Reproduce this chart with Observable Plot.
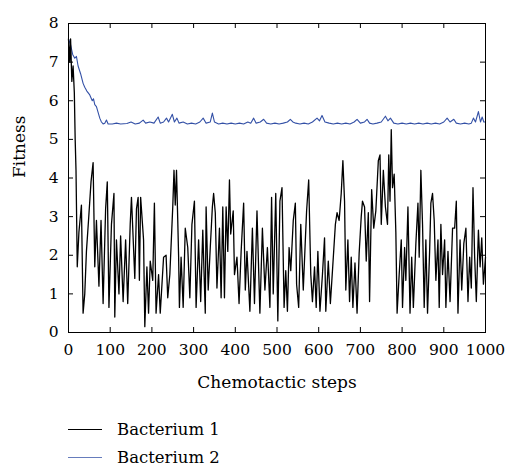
<!DOCTYPE html>
<html>
<head>
<meta charset="utf-8">
<script src="https://cdn.jsdelivr.net/npm/d3@7"></script>
<script src="https://cdn.jsdelivr.net/npm/@observablehq/plot@0.6"></script>
<style>
  html, body { margin: 0; padding: 0; background: #fff; overflow: hidden; }
  #wrap { position: relative; width: 505px; height: 466px; font-family: "DejaVu Serif", serif; }
  .legend { position: absolute; left: 68px; top: 415px; font-size: 16.5px; color: #000; }
  .row { display: flex; align-items: center; height: 28px; }
  .sw { width: 34px; height: 0; margin-right: 15px; }
  svg text { font-family: "DejaVu Serif", serif; }
</style>
</head>
<body>
<div id="wrap"></div>
<script>
// Bacterium 1 (black)
const steps1 = [0,3,5,8,11,14,16,18,21,25,31,35,39,43,48,54,59,63,67,73,78,83,89,93,97,103,109,111,115,121,125,131,137,142,148,151,159,163,167,170,173,180,183,188,192,196,202,206,210,216,220,228,234,238,243,250,253,256,259,262,264,266,270,275,280,286,291,296,302,306,312,317,322,328,330,335,340,345,348,352,356,362,366,370,374,378,382,386,389,395,398,404,409,414,420,424,428,435,441,446,452,459,465,471,477,483,487,491,497,502,507,512,517,521,525,529,533,539,544,547,552,557,563,568,571,576,581,585,590,594,598,603,609,614,617,623,628,633,640,644,649,654,658,662,665,670,674,678,682,687,692,697,702,705,710,714,719,722,727,732,737,743,747,750,755,760,765,768,771,774,777,781,785,788,793,798,801,806,809,814,819,823,827,833,838,841,845,849,853,857,861,866,869,873,877,881,886,889,893,897,902,905,910,915,921,926,930,934,939,943,948,953,958,962,966,970,974,978,983,987,991,995,1000];
const fitness1 = [7.6,7.0,7.6,6.5,6.9,6.2,5.0,4.2,1.7,2.6,3.3,0.5,1.0,2.1,2.9,3.9,4.4,1.7,2.9,1.2,2.9,0.75,3.2,3.9,0.65,2.8,3.6,0.4,2.4,1.0,2.5,0.8,2.4,0.75,2.8,3.5,1.4,3.2,3.5,1.35,3.5,2.4,0.15,1.7,0.5,1.85,1.35,3.35,0.5,1.5,0.5,1.95,2.0,0.9,1.5,3.25,4.2,3.3,4.2,2.9,2.0,0.65,1.95,0.65,2.7,2.2,0.9,2.8,3.4,0.65,2.4,0.8,2.65,0.5,3.25,1.1,2.2,3.25,3.6,3.1,1.15,2.7,0.9,3.25,0.9,3.25,2.1,3.95,2.55,3.15,1.5,1.95,0.75,2.1,3.35,1.1,2.1,0.55,2.7,0.75,3.15,0.5,2.7,1.1,2.2,0.65,3.5,1.0,3.6,0.3,3.4,3.75,0.65,1.6,0.55,2.2,1.6,2.9,3.35,1.25,0.65,2.8,1.1,2.4,3.15,3.95,1.5,0.8,1.7,0.65,2.1,0.55,1.5,2.45,0.55,1.85,0.75,1.6,2.8,3.1,2.9,3.6,4.45,3.4,1.1,2.4,0.8,1.95,0.65,1.8,0.5,2.05,3.0,3.4,3.25,1.85,3.1,0.8,3.7,2.7,3.15,4.45,4.6,2.8,4.2,3.25,2.8,4.6,3.4,5.25,3.75,4.1,2.6,0.5,1.5,2.4,0.65,2.2,1.35,3.25,0.5,1.95,0.65,2.3,3.35,1.95,4.2,2.8,0.65,2.4,0.5,2.1,3.35,3.6,2.9,1.35,2.4,0.65,2.8,1.5,2.4,0.65,2.1,0.8,2.7,2.7,3.4,0.5,2.4,1.1,2.3,2.7,0.8,1.95,1.15,3.75,1.95,0.8,2.65,1.7,2.45,1.25,1.95];

// Bacterium 2 (blue)
const steps2 = [0,5,10,15,19,23,29,35,39,44,51,57,60,63,67,71,75,79,83,87,91,95,105,115,125,140,150,160,170,179,185,195,205,215,220,228,235,240,249,254,260,265,275,285,295,305,315,323,330,340,345,350,360,370,380,390,400,410,420,430,437,444,450,460,468,475,485,495,505,515,525,532,538,545,555,565,575,585,596,602,608,615,625,635,645,655,665,675,685,692,700,710,716,722,730,740,750,760,766,772,780,790,800,810,820,830,840,850,860,870,880,890,900,908,915,924,930,940,950,960,966,971,976,983,988,992,996,1000];
const fitness2 = [7.6,7.45,7.2,7.1,7.15,6.9,6.7,6.45,6.35,6.25,6.15,6.0,6.05,5.9,5.85,5.7,5.55,5.45,5.4,5.42,5.5,5.4,5.4,5.42,5.4,5.41,5.45,5.4,5.42,5.5,5.42,5.45,5.42,5.58,5.42,5.45,5.55,5.45,5.65,5.45,5.55,5.42,5.45,5.4,5.42,5.4,5.45,5.55,5.42,5.45,5.68,5.45,5.4,5.42,5.4,5.42,5.4,5.42,5.4,5.45,5.42,5.55,5.42,5.45,5.52,5.42,5.4,5.42,5.4,5.42,5.45,5.52,5.45,5.42,5.4,5.42,5.4,5.45,5.55,5.48,5.62,5.45,5.42,5.4,5.42,5.4,5.42,5.4,5.45,5.52,5.42,5.45,5.52,5.42,5.4,5.42,5.45,5.6,5.48,5.55,5.42,5.4,5.42,5.4,5.42,5.4,5.42,5.4,5.42,5.4,5.42,5.4,5.45,5.55,5.45,5.52,5.42,5.4,5.42,5.4,5.42,5.55,5.45,5.72,5.45,5.58,5.45,5.45];

const xTicks = [0,100,200,300,400,500,600,700,800,900,1000];
const yTicks = [0,1,2,3,4,5,6,7,8];
const xLabel = "Chemotactic steps";
const yLabel = "Fitness";
const seriesNames = ["Bacterium 1", "Bacterium 2"];
const seriesColors = ["#000000", "#3350a6"];

const d1 = steps1.map((s, i) => ({step: s, fitness: fitness1[i]}));
const d2 = steps2.map((s, i) => ({step: s, fitness: fitness2[i]}));

const font = "'DejaVu Serif', serif";
const chart = Plot.plot({
  width: 505,
  height: 400,
  marginLeft: 68,
  marginRight: 20,
  marginTop: 23,
  marginBottom: 68,
  style: {fontFamily: font, fontSize: "16px", color: "#000", background: "#fff"},
  x: {domain: [0, 1000]},
  y: {domain: [0, 8]},
  marks: [
    Plot.line(d2, {x: "step", y: "fitness", stroke: seriesColors[1], strokeWidth: 1.1}),
    Plot.line(d1, {x: "step", y: "fitness", stroke: seriesColors[0], strokeWidth: 1.3}),
    Plot.tickX(xTicks, {x: d => d, insetTop: 304, stroke: "#000"}),
    Plot.tickX(xTicks, {x: d => d, insetBottom: 304, stroke: "#000"}),
    Plot.tickY(yTicks, {y: d => d, insetRight: 412, stroke: "#000"}),
    Plot.tickY(yTicks, {y: d => d, insetLeft: 412, stroke: "#000"}),
    Plot.frame({stroke: "#000", strokeWidth: 1}),
    Plot.axisX(xTicks, {tickSize: 0, tickPadding: 11, tickFormat: d => String(d), fontSize: 15.5, label: null, fontFamily: font}),
    Plot.axisY(yTicks, {tickSize: 0, tickPadding: 10, tickFormat: d => String(d), fontSize: 15.5, label: null, fontFamily: font}),
    Plot.text([xLabel], {text: d => d, frameAnchor: "bottom", dy: 55, fontSize: 17, fill: "#000", fontFamily: font}),
    Plot.text([yLabel], {text: d => d, frameAnchor: "left", dx: -49, rotate: -90, fontSize: 17, fill: "#000", fontFamily: font})
  ]
});

const wrap = document.getElementById("wrap");
chart.style.position = "absolute";
chart.style.left = "0px";
chart.style.top = "0px";
wrap.appendChild(chart);

const legend = document.createElement("div");
legend.className = "legend";
seriesNames.forEach((name, i) => {
  const row = document.createElement("div");
  row.className = "row";
  const sw = document.createElement("div");
  sw.className = "sw";
  sw.style.borderTop = `1.3px solid ${seriesColors[i]}`;
  if (i === 1) sw.style.opacity = "0.75";
  row.appendChild(sw);
  const t = document.createElement("span");
  t.textContent = name;
  row.appendChild(t);
  legend.appendChild(row);
});
wrap.appendChild(legend);
</script>
</body>
</html>
